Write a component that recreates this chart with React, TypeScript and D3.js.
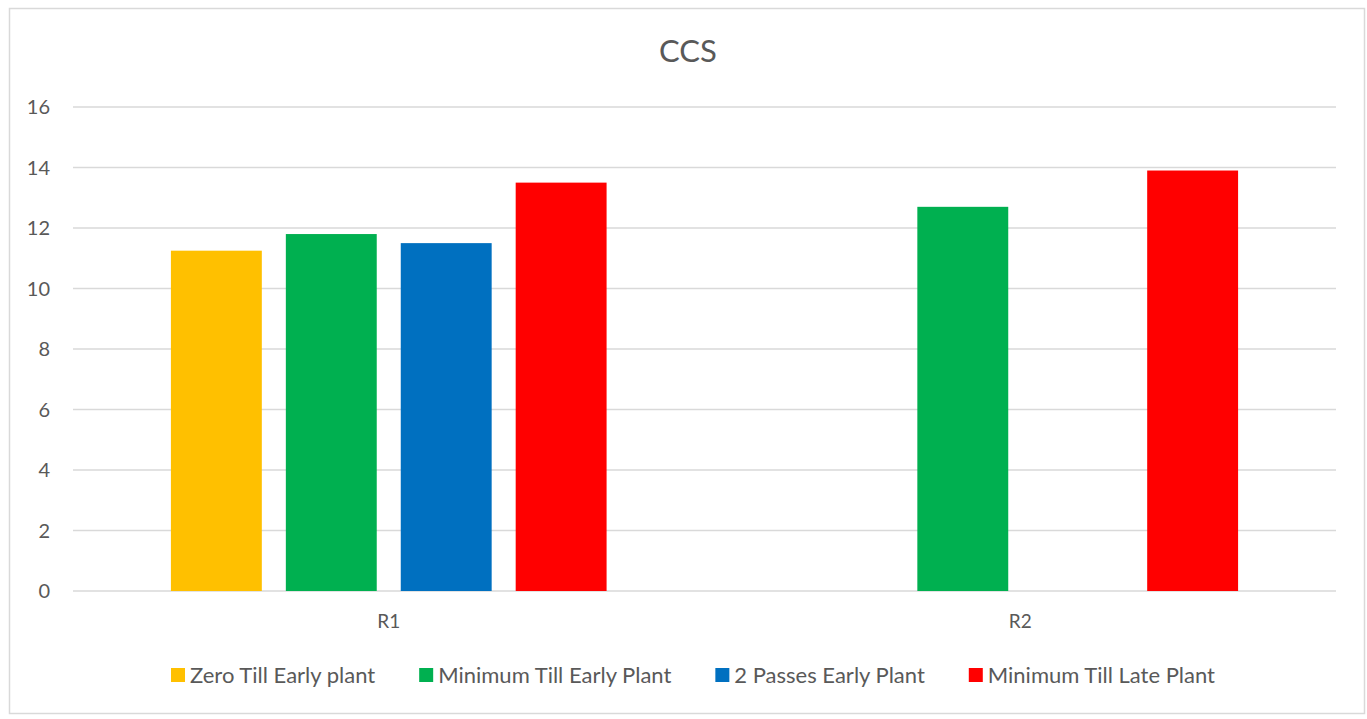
import React, { useRef, useEffect } from 'react';
import * as d3 from 'd3';

const categories = ['R1', 'R2'];
const seriesNames = ['Zero Till Early plant', 'Minimum Till Early Plant', '2 Passes Early Plant', 'Minimum Till Late Plant'];
const seriesColors = ['#FFC000', '#00B050', '#0070C0', '#FF0000'];
const zeroTillEarly = [11.25, null];
const minTillEarly = [11.8, 12.7];
const twoPassesEarly = [11.5, null];
const minTillLate = [13.5, 13.9];
const yTicks = [0, 2, 4, 6, 8, 10, 12, 14, 16];

const seriesValues = [zeroTillEarly, minTillEarly, twoPassesEarly, minTillLate];

const W = 1367;
const H = 719;
const FONT = 'Lato, "Open Sans", sans-serif';

const App: React.FC = () => {
  const svgRef = useRef<SVGSVGElement | null>(null);

  useEffect(() => {
    const svg = d3.select(svgRef.current);
    svg.selectAll('*').remove();

    // outer frame
    svg.append('rect')
      .attr('x', 9.5).attr('y', 8.5)
      .attr('width', 1355).attr('height', 705)
      .attr('fill', '#fff').attr('stroke', '#d9d9d9').attr('stroke-width', 1.5);

    const plot = { left: 73, right: 1336, top: 107, bottom: 591 };

    // title
    svg.append('text')
      .attr('x', 688).attr('y', 62)
      .attr('text-anchor', 'middle')
      .attr('font-family', FONT).attr('font-size', 31)
      .attr('fill', '#595959')
      .text('CCS');

    // scales
    const x0 = d3.scaleBand().domain(categories).range([plot.left, plot.right]);
    const x1 = d3.scaleBand()
      .domain(seriesNames)
      .range([0, x0.bandwidth()])
      .paddingInner(0.209)
      .paddingOuter(0.852);
    const y = d3.scaleLinear().domain([0, 16]).range([plot.bottom, plot.top]);

    // gridlines
    svg.append('g')
      .selectAll('line')
      .data(yTicks)
      .enter()
      .append('line')
      .attr('x1', plot.left).attr('x2', plot.right)
      .attr('y1', d => y(d)).attr('y2', d => y(d))
      .attr('stroke', '#d9d9d9').attr('stroke-width', 1.5);

    // y labels
    svg.append('g')
      .selectAll('text')
      .data(yTicks)
      .enter()
      .append('text')
      .attr('x', 50).attr('y', d => y(d) + 7)
      .attr('text-anchor', 'end')
      .attr('font-family', FONT).attr('font-size', 20)
      .attr('fill', '#595959')
      .text(d => d);

    // x labels
    svg.append('g')
      .selectAll('text')
      .data(categories)
      .enter()
      .append('text')
      .attr('x', d => (x0(d) as number) + x0.bandwidth() / 2)
      .attr('y', 628)
      .attr('text-anchor', 'middle')
      .attr('font-family', FONT).attr('font-size', 19)
      .attr('fill', '#595959')
      .text(d => d);

    // bars
    seriesNames.forEach((name, si) => {
      const vals = seriesValues[si];
      svg.append('g')
        .selectAll('rect')
        .data(categories.map((c, ci) => ({ c, v: vals[ci] })).filter(d => d.v != null))
        .enter()
        .append('rect')
        .attr('x', d => (x0(d.c) as number) + (x1(name) as number))
        .attr('y', d => y(d.v as number))
        .attr('width', x1.bandwidth())
        .attr('height', d => plot.bottom - y(d.v as number))
        .attr('fill', seriesColors[si]);
    });

    // legend
    const legend = svg.append('g');
    const items = seriesNames.map((name, i) => {
      const g = legend.append('g');
      g.append('rect')
        .attr('x', 0).attr('y', -15)
        .attr('width', 14).attr('height', 14)
        .attr('fill', seriesColors[i]);
      const t = g.append('text')
        .attr('x', 19).attr('y', 0)
        .attr('font-family', FONT).attr('font-size', 22)
        .attr('fill', '#595959')
        .text(name);
      const w = 19 + (t.node() as SVGTextElement).getComputedTextLength();
      return { g, w };
    });
    const gap = 44;
    const total = d3.sum(items, d => d.w) + gap * (items.length - 1);
    let cx = 693 - total / 2;
    items.forEach(it => {
      it.g.attr('transform', `translate(${cx},683)`);
      cx += it.w + gap;
    });
  }, []);

  return (
    <svg ref={svgRef} width={W} height={H} style={{ position: 'absolute', left: 0, top: 0 }} />
  );
};

export default App;
